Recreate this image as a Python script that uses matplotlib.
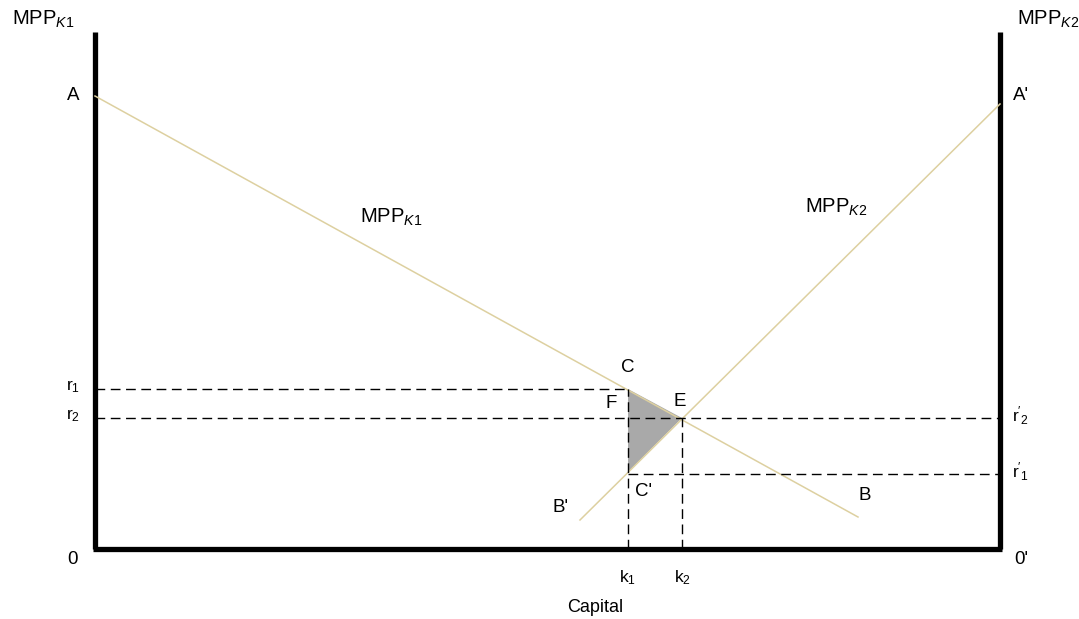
"""
Two-sector capital allocation diagram (MPP_K1 vs MPP_K2)
"""
import matplotlib.pyplot as plt

plt.rcParams['font.family'] = ['Liberation Sans', 'DejaVu Sans']
plt.rcParams['mathtext.fontset'] = 'custom'
plt.rcParams['mathtext.rm'] = 'Liberation Sans'
plt.rcParams['mathtext.it'] = 'Liberation Sans:italic'

# Data (units measured from origin 0 on the capital / MPP axes)
capital_total = 905
mpp_top = 517
mpp_k1_x = [0, 763]        # A -> B
mpp_k1_y = [453, 32]
mpp_k2_x = [905, 485]      # A' -> B'
mpp_k2_y = [445, 29]
k1, k2 = 533, 587
r1, r2, r1p = 160, 131, 75
c_prime_y = 77

fig = plt.figure(figsize=(10.79, 6.19), dpi=100)
ax = fig.add_axes([0, 0, 1, 1])
ax.set_xlim(-95, 984)
ax.set_ylim(-70, 549)
ax.axis('off')

# axes frame (left, right, bottom)
ax.plot([0, 0], [0, mpp_top], color='black', lw=3.8, solid_capstyle='butt')
ax.plot([capital_total, capital_total], [0, mpp_top], color='black', lw=3.8, solid_capstyle='butt')
ax.plot([-2, capital_total + 2], [0, 0], color='black', lw=3.8, solid_capstyle='butt')

# shaded deadweight triangle
ax.fill([k1, k2, k1], [r1, r2, c_prime_y], color='#a9a9a9', lw=0)

# MPP curves
line_col = '#ddd0a0'
ax.plot(mpp_k1_x, mpp_k1_y, color=line_col, lw=1.1)
ax.plot(mpp_k2_x, mpp_k2_y, color=line_col, lw=1.1)

# dashed guides
dash = dict(color='black', lw=1.0, dashes=(7, 4))
ax.plot([0, k1], [r1, r1], **dash)
ax.plot([0, capital_total], [r2, r2], **dash)
ax.plot([k1, capital_total], [r1p, r1p], **dash)
ax.plot([k1, k1], [0, r1], **dash)
ax.plot([k2, k2], [0, r2], **dash)

mpp = 14.5
big = 13.5
small = 12.5
ax.text(-83, 530, r'MPP$_{\mathit{K1}}$', fontsize=mpp, ha='left', va='center')
ax.text(922, 530, r'MPP$_{\mathit{K2}}$', fontsize=mpp, ha='left', va='center')
ax.text(-22, 453, 'A', fontsize=big, ha='center', va='center')
ax.text(926, 453, "A'", fontsize=big, ha='center', va='center')
ax.text(265, 332, r'MPP$_{\mathit{K1}}$', fontsize=mpp, ha='left', va='center')
ax.text(710, 342, r'MPP$_{\mathit{K2}}$', fontsize=mpp, ha='left', va='center')
ax.text(k1, 181, 'C', fontsize=big, ha='center', va='center')
ax.text(516, 145, 'F', fontsize=big, ha='center', va='center')
ax.text(585, 147, 'E', fontsize=big, ha='center', va='center')
ax.text(548, 57, "C'", fontsize=big, ha='center', va='center')
ax.text(465, 41, "B'", fontsize=big, ha='center', va='center')
ax.text(770, 53, 'B', fontsize=big, ha='center', va='center')
ax.text(-22, -11, '0', fontsize=big, ha='center', va='center')
ax.text(926, -11, "0'", fontsize=big, ha='center', va='center')

ax.text(-22, r1 + 2, r'$\mathregular{r_1}$', fontsize=small, ha='center', va='center')
ax.text(-22, r2 + 2, r'$\mathregular{r_2}$', fontsize=small, ha='center', va='center')
ax.text(925, r2 + 2, r"$\mathregular{r'_2}$", fontsize=small, ha='center', va='center')
ax.text(925, r1p + 2, r"$\mathregular{r'_1}$", fontsize=small, ha='center', va='center')
ax.text(k1, -29, r'$\mathregular{k_1}$', fontsize=small, ha='center', va='center')
ax.text(k2, -29, r'$\mathregular{k_2}$', fontsize=small, ha='center', va='center')
ax.text(500, -58, 'Capital', fontsize=13, ha='center', va='center')

plt.savefig('out.png', dpi=100)
plt.close()
